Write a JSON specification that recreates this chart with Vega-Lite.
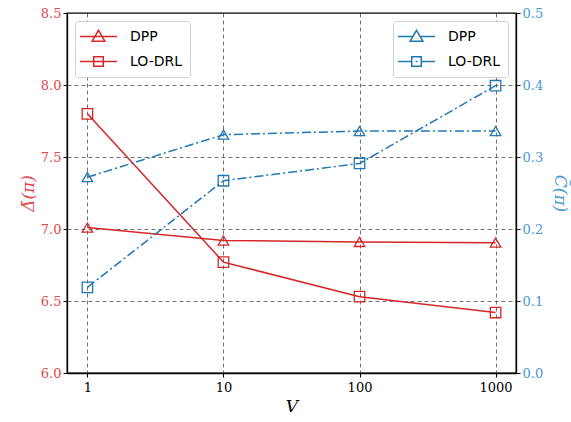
{
  "$schema": "https://vega.github.io/schema/vega-lite/v6.json",
  "autosize": {"type": "none"},
  "padding": {"left": 67, "top": 13, "right": 55, "bottom": 49},
  "width": 449,
  "height": 360,
  "background": "white",
  "config": {
    "view": {"stroke": "black", "strokeWidth": 1.3},
    "axis": {"labelFont": "DejaVu Serif", "labelFontSize": 13, "titleFont": "DejaVu Serif", "titleFontWeight": "normal", "titleFontStyle": "italic", "titleFontSize": 17, "tickColor": "black", "domainColor": "black", "domainWidth": 1.3, "tickSize": 4, "gridColor": "#444", "gridDash": [4, 3], "gridOpacity": 0.85, "gridWidth": 0.9},
    "legend": {"labelFont": "DejaVu Sans", "labelFontSize": 14, "labelColor": "black", "strokeColor": "#d0d0d0", "fillColor": "white", "cornerRadius": 3, "padding": 7, "rowPadding": 8, "symbolOffset": 8, "labelOffset": 23, "symbolOpacity": 1, "symbolSize": 240, "symbolStrokeWidth": 1.5}
  },
  "data": {"values": [
    {"V": 1, "metric": "Delta", "method": "DPP", "value": 7.01},
    {"V": 10, "metric": "Delta", "method": "DPP", "value": 6.92},
    {"V": 100, "metric": "Delta", "method": "DPP", "value": 6.91},
    {"V": 1000, "metric": "Delta", "method": "DPP", "value": 6.905},
    {"V": 1, "metric": "Delta", "method": "LO-DRL", "value": 7.80},
    {"V": 10, "metric": "Delta", "method": "LO-DRL", "value": 6.77},
    {"V": 100, "metric": "Delta", "method": "LO-DRL", "value": 6.53},
    {"V": 1000, "metric": "Delta", "method": "LO-DRL", "value": 6.42},
    {"V": 1, "metric": "C", "method": "DPP", "value": 0.272},
    {"V": 10, "metric": "C", "method": "DPP", "value": 0.331},
    {"V": 100, "metric": "C", "method": "DPP", "value": 0.336},
    {"V": 1000, "metric": "C", "method": "DPP", "value": 0.336},
    {"V": 1, "metric": "C", "method": "LO-DRL", "value": 0.119},
    {"V": 10, "metric": "C", "method": "LO-DRL", "value": 0.267},
    {"V": 100, "metric": "C", "method": "LO-DRL", "value": 0.291},
    {"V": 1000, "metric": "C", "method": "LO-DRL", "value": 0.399}
  ]},
  "encoding": {
    "x": {"field": "V", "type": "quantitative", "scale": {"type": "log", "domain": [0.708, 1413], "nice": false},
      "axis": {"values": [1, 10, 100, 1000], "format": "d", "title": "V", "labelColor": "black", "titleColor": "black", "grid": true, "labelPadding": 4, "titlePadding": 4}}
  },
  "layer": [
    {
      "transform": [{"filter": "datum.metric === 'Delta'"}],
      "mark": {"type": "line", "color": "#d62728", "strokeWidth": 1.5},
      "encoding": {
        "detail": {"field": "method"},
        "y": {"field": "value", "type": "quantitative", "scale": {"domain": [6.0, 8.5], "nice": false, "zero": false},
          "axis": {"orient": "left", "values": [6.0, 6.5, 7.0, 7.5, 8.0, 8.5], "format": ".1f", "title": "Δ̄(π)", "labelColor": "#e0474c", "titleColor": "#e0474c", "grid": true, "titlePadding": 3}}
      }
    },
    {
      "transform": [{"filter": "datum.metric === 'Delta'"}],
      "mark": {"type": "point", "filled": false, "color": "#d62728", "strokeWidth": 1.3, "size": 110, "opacity": 1},
      "encoding": {
        "y": {"field": "value", "type": "quantitative", "scale": {"domain": [6.0, 8.5], "nice": false, "zero": false}, "axis": null},
        "shape": {"field": "method", "type": "nominal", "scale": {"domain": ["DPP", "LO-DRL"], "range": ["triangle-up", "square"]}, "legend": null}
      }
    },
    {
      "transform": [{"filter": "datum.metric === 'none'"}],
      "mark": {"type": "point", "filled": false, "color": "#d62728", "strokeWidth": 1.5, "size": 240, "opacity": 1},
      "encoding": {
        "y": {"field": "value", "type": "quantitative", "scale": {"domain": [6.0, 8.5], "nice": false, "zero": false}, "axis": null},
        "shape": {"field": "method", "type": "nominal",
          "scale": {"domain": ["DPP", "LO-DRL"], "range": ["M-2.4,0H2.4M0,-0.8L0.82,0.6L-0.82,0.6Z", "M-2.4,0H2.4M-0.62,-0.62H0.62V0.62H-0.62Z"]},
          "legend": {"title": null, "orient": "top-left", "offset": 8}}
      }
    },
    {
      "transform": [{"filter": "datum.metric === 'C'"}],
      "mark": {"type": "line", "color": "#1f77b4", "strokeWidth": 1.5, "strokeDash": [9, 3, 2, 3]},
      "encoding": {
        "detail": {"field": "method"},
        "y": {"field": "value", "type": "quantitative", "scale": {"domain": [0.0, 0.5], "nice": false},
          "axis": {"orient": "right", "values": [0.0, 0.1, 0.2, 0.3, 0.4, 0.5], "format": ".1f", "title": "C̄(π)", "labelColor": "#4a98d3", "titleColor": "#4a98d3", "grid": false, "titlePadding": 8}}
      }
    },
    {
      "transform": [{"filter": "datum.metric === 'C'"}],
      "mark": {"type": "point", "filled": false, "color": "#1f77b4", "strokeWidth": 1.3, "size": 110, "opacity": 1},
      "encoding": {
        "y": {"field": "value", "type": "quantitative", "scale": {"domain": [0.0, 0.5], "nice": false}, "axis": null},
        "shape": {"field": "method", "type": "nominal", "scale": {"domain": ["DPP", "LO-DRL"], "range": ["triangle-up", "square"]}, "legend": null}
      }
    },
    {
      "transform": [{"filter": "datum.metric === 'none'"}],
      "mark": {"type": "point", "filled": false, "color": "#1f77b4", "strokeWidth": 1.5, "size": 240, "opacity": 1},
      "encoding": {
        "y": {"field": "value", "type": "quantitative", "scale": {"domain": [0.0, 0.5], "nice": false}, "axis": null},
        "shape": {"field": "method", "type": "nominal",
          "scale": {"domain": ["DPP", "LO-DRL"], "range": ["M-2.4,0H-0.55M0.55,0H2.4M0,-0.8L0.82,0.6L-0.82,0.6Z", "M-2.4,0H-0.62M-0.12,0H0.12M0.62,0H2.4M-0.62,-0.62H0.62V0.62H-0.62Z"]},
          "legend": {"title": null, "orient": "top-right", "offset": 8}}
      }
    }
  ],
  "resolve": {"scale": {"y": "independent", "shape": "independent"}, "legend": {"shape": "independent"}}
}
